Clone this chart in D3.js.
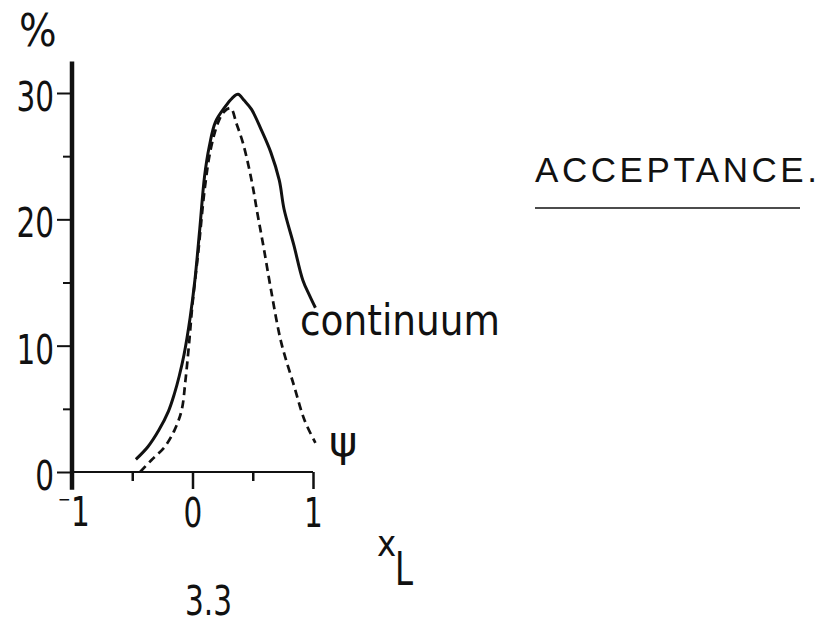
<!DOCTYPE html>
<html>
<head>
<meta charset="utf-8">
<script src="https://cdn.jsdelivr.net/npm/d3@7"></script>
<style>
  html, body { margin: 0; padding: 0; background: #fff; }
  svg { display: block; }
  text { font-family: "Liberation Sans Narrow", "DejaVu Sans Condensed", "Liberation Sans", sans-serif; fill: #111; }
</style>
</head>
<body>
<svg id="chart" width="830" height="632"></svg>
<script>
// Acceptance (%) versus x_L
const continuum = [
  [-0.47, 1.0], [-0.37, 2.0], [-0.28, 3.3], [-0.20, 4.8], [-0.15, 6.2], [-0.11, 7.6],
  [-0.07, 9.3], [-0.02, 12.2], [0.02, 15.2], [0.06, 19.2], [0.10, 23.4], [0.14, 25.8],
  [0.19, 27.7], [0.27, 28.9], [0.33, 29.6], [0.378, 29.9], [0.43, 29.4], [0.49, 28.7],
  [0.57, 27.1], [0.65, 25.3], [0.72, 23.1], [0.76, 20.8], [0.84, 18.0], [0.915, 15.2],
  [0.97, 14.0], [1.02, 13.0]
];
const psi = [
  [-0.435, 0.0], [-0.34, 0.95], [-0.23, 2.0], [-0.15, 3.3], [-0.09, 4.9], [-0.058, 7.3],
  [-0.03, 10.0], [0.0, 13.3], [0.05, 17.6], [0.10, 22.3], [0.15, 25.5], [0.21, 27.6],
  [0.26, 28.5], [0.317, 28.8], [0.364, 27.6], [0.42, 26.0], [0.49, 23.1], [0.54, 20.4],
  [0.59, 17.8], [0.65, 14.5], [0.735, 10.3], [0.845, 6.75], [0.93, 4.1], [1.02, 2.3]
];
const yMajorTicks = [0, 10, 20, 30];
const yMinorTicks = [5, 15, 25];
const xMajorTicks = [0, 1];
const xMinorTicks = [-0.5, 0.5];
const xTickLabels = ["0", "1"];

const svg = d3.select("#chart");
const x = d3.scaleLinear().domain([-1, 1]).range([72, 313]);
const y = d3.scaleLinear().domain([0, 30]).range([472, 93]);

// narrow lettering: squeeze glyphs horizontally
const squeeze = 0.8;

// y axis: heavy spine, long major ticks, short minor ticks
const gy = svg.append("g").attr("transform", `translate(${x(-1)},0)`);
gy.call(d3.axisLeft(y).tickValues(yMajorTicks).tickSize(15).tickFormat(d3.format("d")));
gy.append("g").call(d3.axisLeft(y).tickValues(yMinorTicks).tickSize(9).tickFormat(""));
gy.selectAll(".domain").remove();
gy.selectAll(".tick line").attr("stroke", "#111").attr("stroke-width", 2);
gy.selectAll(".tick text").attr("font-size", 41).attr("fill", "#111")
  .attr("font-family", null).attr("dy", "0.43em")
  .attr("x", -18 / squeeze).attr("transform", `scale(${squeeze},1)`);
gy.append("line").attr("x1", 0).attr("x2", 0)
  .attr("y1", y(32.5)).attr("y2", y(-1.4))
  .attr("stroke", "#111").attr("stroke-width", 4.5);

// x axis
const gx = svg.append("g").attr("transform", `translate(0,${y(0)})`);
gx.call(d3.axisBottom(x).tickValues(xMajorTicks).tickSize(17).tickPadding(9)
  .tickFormat((d, i) => xTickLabels[i]));
gx.append("g").call(d3.axisBottom(x).tickValues(xMinorTicks).tickSize(9).tickFormat(""));
gx.selectAll(".domain").remove();
gx.selectAll(".tick line").attr("stroke", "#111").attr("stroke-width", 2.5);
gx.selectAll(".tick text").attr("font-size", 41).attr("fill", "#111").attr("font-family", null)
  .attr("transform", `scale(${squeeze},1)`);
gx.append("line").attr("x1", x(-1)).attr("x2", x(1))
  .attr("y1", 0).attr("y2", 0).attr("stroke", "#111").attr("stroke-width", 2);
// label for -1: small raised minus left of the spine, the 1 just right of it
gx.append("text").attr("text-anchor", "start")
  .attr("x", x(-1) - 14).attr("y", 33).attr("font-size", 17).text("\u2212");
gx.append("text").attr("text-anchor", "start").attr("font-size", 41)
  .attr("transform", `translate(${x(-1) - 1},54) scale(${squeeze},1)`).text("1");

// curves
const line = d3.line().x(d => x(d[0])).y(d => y(d[1])).curve(d3.curveCatmullRom.alpha(0.5));
svg.append("path").datum(continuum).attr("d", line)
  .attr("fill", "none").attr("stroke", "#111").attr("stroke-width", 3).attr("stroke-linejoin", "round");
svg.append("path").datum(psi).attr("d", line)
  .attr("fill", "none").attr("stroke", "#111").attr("stroke-width", 2.7)
  .attr("stroke-dasharray", "8,5");

// text labels
svg.append("text").attr("x", 19).attr("y", 46).attr("font-size", 44).text("%");
svg.append("text").attr("x", 300).attr("y", 335).attr("font-size", 43)
  .attr("textLength", 200).attr("lengthAdjust", "spacingAndGlyphs").text("continuum");
svg.append("text").attr("x", 329).attr("y", 456).attr("font-size", 43)
  .style("font-family", "'DejaVu Sans'").text("\u03c8");
svg.append("text").attr("x", 535).attr("y", 182).attr("font-size", 35)
  .style("font-family", "'Liberation Sans', Arial, sans-serif")
  .attr("textLength", 282).attr("lengthAdjust", "spacing").text("ACCEPTANCE.");
svg.append("line").attr("x1", 535).attr("x2", 800).attr("y1", 208).attr("y2", 208)
  .attr("stroke", "#111").attr("stroke-width", 1.6);
svg.append("text").attr("x", 377).attr("y", 556).attr("font-size", 36).text("x");
svg.append("text").attr("x", 395).attr("y", 585).attr("font-size", 47)
  .attr("textLength", 18).attr("lengthAdjust", "spacingAndGlyphs").text("L");
svg.append("text").attr("x", 185).attr("y", 615).attr("font-size", 41)
  .attr("textLength", 47).attr("lengthAdjust", "spacingAndGlyphs").text("3.3");
</script>
</body>
</html>
